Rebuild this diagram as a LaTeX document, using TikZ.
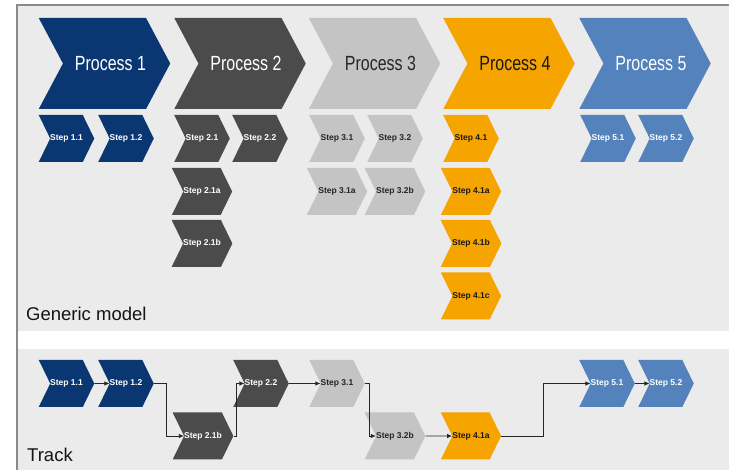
\documentclass[tikz,border=0pt]{standalone}
\usepackage{fontspec}
\setmainfont{Liberation Sans}
\newfontfamily\estreita[FakeStretch=0.78]{Liberation Sans}
\usetikzlibrary{shapes.symbols,arrows.meta}

\definecolor{azulesc}{HTML}{0A3772}
\definecolor{cinzaesc}{HTML}{4B4B4B}
\definecolor{cinzacl}{HTML}{C4C4C4}
\definecolor{laranja}{HTML}{F6A400}
\definecolor{azulcl}{HTML}{5382BC}
\definecolor{fundo}{HTML}{EBEBEB}
\definecolor{borda}{HTML}{8A8A8A}

\begin{document}
\begin{tikzpicture}[x=1pt, y=-1pt,
    processo/.style={signal, signal to=east, signal from=west,
        signal pointer angle=124, minimum width=129pt, minimum height=91pt,
        inner sep=0pt, execute at begin node=\hspace*{12pt},
        font=\estreita\fontsize{20.5}{20.5}\selectfont},
    passo/.style={signal, signal to=east, signal from=west,
        signal pointer angle=128, minimum width=53pt, minimum height=47pt,
        inner sep=0pt, font=\bfseries\fontsize{8.5}{8.5}\selectfont},
    c1/.style={fill=azulesc, text=white},
    c2/.style={fill=cinzaesc, text=white},
    c3/.style={fill=cinzacl, text=black!85},
    c4/.style={fill=laranja, text=black!90},
    c5/.style={fill=azulcl, text=white},
    titulo/.style={anchor=base west, inner sep=0pt, text=black!92,
        font=\fontsize{18.5}{18.5}\selectfont},
    seta/.style={-{Latex[length=5pt,width=4.5pt]}, line width=0.8pt, draw=black!85}]
    \useasboundingbox (0,0) rectangle (729,470);

    % Fundo e moldura
    \fill[fundo] (17,5) rectangle (729,331);
    \fill[white] (17,331) rectangle (729,349);
    \fill[fundo] (17,349) rectangle (729,470);
    \draw[borda, line width=1.2pt] (17,470) -- (17,5) -- (729,5);

    % Processos
    \node[processo, c1] (p1) at (104.5,63.5) {Process 1};
    \node[processo, c2] (p2) at (240,63.5) {Process 2};
    \node[processo, c3] (p3) at (374.5,63.5) {Process 3};
    \node[processo, c4] (p4) at (509,63.5) {Process 4};
    \node[processo, c5] (p5) at (645,63.5) {Process 5};

    % Passos do modelo
    \node[passo, c1] (s11) at (66.5,138.5) {Step 1.1};
    \node[passo, c1] (s12) at (126,138.5) {Step 1.2};
    \node[passo, c2] (s21) at (202,138.5) {Step 2.1};
    \node[passo, c2] (s22) at (260,138.5) {Step 2.2};
    \node[passo, c2] (s21a) at (202,191.5) {Step 2.1a};
    \node[passo, c2] (s21b) at (202,243.5) {Step 2.1b};
    \node[passo, c3] (s31) at (337,138.5) {Step 3.1};
    \node[passo, c3] (s32) at (395,138.5) {Step 3.2};
    \node[passo, c3] (s31a) at (337,191.5) {Step 3.1a};
    \node[passo, c3] (s32b) at (395,191.5) {Step 3.2b};
    \node[passo, c4] (s41) at (471,138.5) {Step 4.1};
    \node[passo, c4] (s41a) at (471,191.5) {Step 4.1a};
    \node[passo, c4] (s41b) at (471,243.5) {Step 4.1b};
    \node[passo, c4] (s41c) at (471,296) {Step 4.1c};
    \node[passo, c5] (s51) at (608,138.5) {Step 5.1};
    \node[passo, c5] (s52) at (666,138.5) {Step 5.2};

    \node[titulo] (modelo) at (26,321) {Generic model};

    % Percurso
    \node[passo, c1] (t11) at (66.5,383.5) {Step 1.1};
    \node[passo, c1] (t12) at (126,383.5) {Step 1.2};
    \node[passo, c2] (t21b) at (203,436) {Step 2.1b};
    \node[passo, c2] (t22) at (261,383.5) {Step 2.2};
    \node[passo, c3] (t31) at (337,383.5) {Step 3.1};
    \node[passo, c3] (t32b) at (395,436) {Step 3.2b};
    \node[passo, c4] (t41a) at (471,436) {Step 4.1a};
    \node[passo, c5] (t51) at (607,383.5) {Step 5.1};
    \node[passo, c5] (t52) at (666,383.5) {Step 5.2};

    \node[titulo] (percurso) at (27,462) {Track};

    \draw[seta] (t11) -- (t12);
    \draw[seta] (t12.east) -- ++(12,0) |- (t21b);
    \draw[seta] (t21b.east) -- ++(3,0) |- (t22);
    \draw[seta] (t22) -- (t31);
    \draw[seta] (t31.east) -- ++(4,0) |- (t32b);
    \draw[seta] (t32b) -- (t41a);
    \draw[seta] (t41a.east) -- ++(42,0) |- (t51);
    \draw[seta] (t51) -- (t52);
\end{tikzpicture}
\end{document}
